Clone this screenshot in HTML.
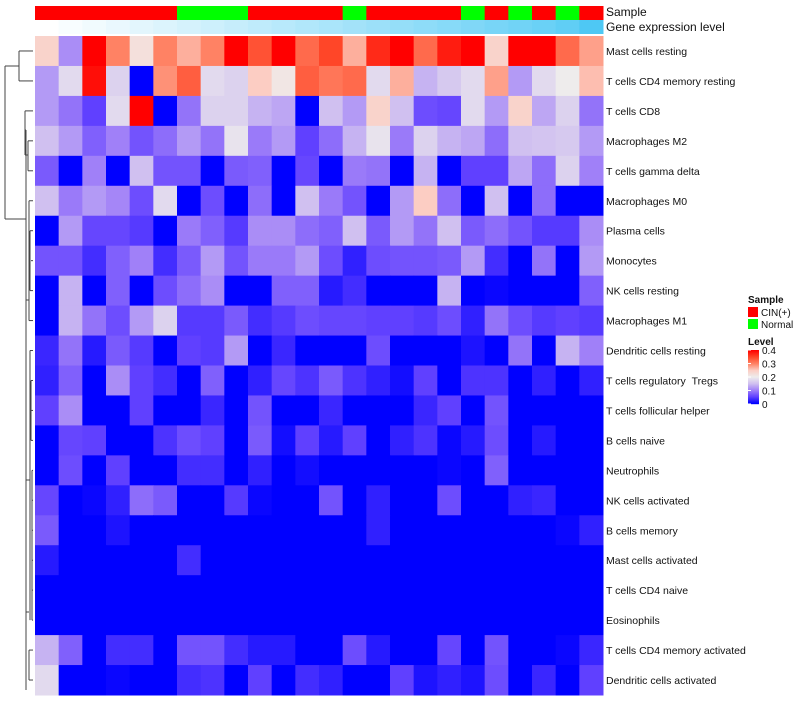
<!DOCTYPE html>
<html><head><meta charset="utf-8"><style>
body{margin:0;background:#fff;width:800px;height:700px;overflow:hidden;font-family:"Liberation Sans",sans-serif}
</style></head><body>
<svg id="chart" width="800" height="700" xmlns="http://www.w3.org/2000/svg" font-family="Liberation Sans, sans-serif"></svg>
<script>
const rowLabels=["Mast cells resting","T cells CD4 memory resting","T cells CD8","Macrophages M2","T cells gamma delta","Macrophages M0","Plasma cells","Monocytes","NK cells resting","Macrophages M1","Dendritic cells resting","T cells regulatory \u00a0Tregs","T cells follicular helper","B cells naive","Neutrophils","NK cells activated","B cells memory","Mast cells activated","T cells CD4 naive","Eosinophils","T cells CD4 memory activated","Dendritic cells activated"];
const sampleGroups=["CIN","CIN","CIN","CIN","CIN","CIN","Normal","Normal","Normal","CIN","CIN","CIN","CIN","Normal","CIN","CIN","CIN","CIN","Normal","CIN","Normal","CIN","Normal","CIN"];
const geneLevel=[0,0.04,0.08,0.12,0.16,0.2,0.24,0.28,0.32,0.36,0.4,0.44,0.48,0.52,0.56,0.6,0.64,0.68,0.72,0.76,0.8,0.84,0.9,1];
const r01=[0.24,0.11,0.4,0.3,0.22,0.3,0.27,0.3,0.4,0.34,0.4,0.32,0.35,0.27,0.37,0.4,0.32,0.38,0.4,0.24,0.4,0.4,0.32,0.28];
const r02=[0.12,0.18,0.39,0.17,0,0.29,0.33,0.18,0.17,0.25,0.21,0.33,0.31,0.32,0.18,0.27,0.14,0.16,0.18,0.28,0.12,0.18,0.2,0.26];
const r03=[0.12,0.09,0.05,0.18,0.4,0,0.09,0.17,0.17,0.14,0.13,0,0.15,0.12,0.24,0.15,0.06,0.055,0.18,0.12,0.24,0.13,0.17,0.09];
const r04=[0.15,0.12,0.075,0.1,0.065,0.085,0.12,0.09,0.19,0.095,0.12,0.05,0.085,0.14,0.19,0.095,0.17,0.14,0.13,0.085,0.15,0.155,0.16,0.12];
const r05=[0.07,0,0.1,0,0.15,0.065,0.065,0,0.07,0.075,0,0.055,0,0.095,0.09,0,0.14,0,0.05,0.05,0.13,0.085,0.17,0.1];
const r06=[0.15,0.095,0.12,0.105,0.06,0.18,0,0.06,0,0.085,0,0.15,0.095,0.065,0,0.12,0.25,0.085,0,0.15,0,0.085,0,0];
const r07=[0,0.12,0.055,0.055,0.045,0,0.095,0.075,0.045,0.11,0.11,0.085,0.075,0.15,0.07,0.12,0.09,0.15,0.07,0.085,0.065,0.045,0.045,0.11];
const r08=[0.065,0.065,0.035,0.075,0.1,0.035,0.07,0.12,0.065,0.095,0.095,0.12,0.06,0.025,0.06,0.065,0.065,0.07,0.12,0.035,0,0.09,0,0.12];
const r09=[0,0.14,0,0.075,0,0.06,0.085,0.11,0,0,0.075,0.075,0.02,0.035,0,0,0,0.14,0,0.005,0,0,0,0.075];
const r10=[0,0.14,0.09,0.06,0.12,0.17,0.045,0.045,0.07,0.035,0.045,0.06,0.055,0.055,0.05,0.05,0.045,0.06,0.025,0.09,0.06,0.045,0.05,0.045];
const r11=[0.03,0.09,0.02,0.07,0.045,0,0.05,0.045,0.12,0,0.03,0,0,0,0.06,0,0,0,0.015,0,0.09,0,0.14,0.1];
const r12=[0.025,0.075,0,0.11,0.05,0.035,0,0.075,0,0.025,0.055,0.04,0.07,0.04,0.025,0.01,0.05,0,0.04,0.04,0,0.025,0,0.025];
const r13=[0.05,0.11,0,0,0.05,0,0,0.03,0,0.065,0,0,0.03,0,0,0,0.03,0.05,0,0.065,0,0,0,0];
const r14=[0,0.055,0.05,0,0,0.04,0.06,0.05,0,0.07,0.01,0.05,0.02,0.05,0,0.025,0.04,0.005,0.02,0.06,0,0.02,0,0];
const r15=[0,0.06,0,0.05,0,0,0.035,0.035,0,0.025,0,0.01,0,0,0,0,0,0.005,0,0.075,0,0,0,0];
const r16=[0.055,0,0.005,0.025,0.085,0.07,0,0,0.045,0.005,0,0,0.065,0,0.025,0,0,0.06,0,0,0.025,0.03,0,0];
const r17=[0.07,0,0,0.015,0,0,0,0,0,0,0,0,0,0,0.025,0,0,0,0,0,0,0,0.005,0.025];
const r18=[0.02,0,0,0,0,0,0.035,0,0,0,0,0,0,0,0,0,0,0,0,0,0,0,0,0];
const r19=[0,0,0,0,0,0,0,0,0,0,0,0,0,0,0,0,0,0,0,0,0,0,0,0];
const r20=[0,0,0,0,0,0,0,0,0,0,0,0,0,0,0,0,0,0,0,0,0,0,0,0];
const r21=[0.14,0.075,0,0.035,0.035,0,0.065,0.065,0.035,0.02,0.02,0,0,0.06,0.02,0,0,0.055,0,0.065,0,0,0.005,0.03];
const r22=[0.18,0,0,0.005,0,0,0.035,0.04,0,0.05,0,0.035,0.025,0,0,0.05,0.015,0.025,0.015,0.06,0,0.03,0,0.05];
const values=[r01,r02,r03,r04,r05,r06,r07,r08,r09,r10,r11,r12,r13,r14,r15,r16,r17,r18,r19,r20,r21,r22];
const legendTicks=[0,0.1,0.2,0.3,0.4];

const NS="http://www.w3.org/2000/svg";
const svg=document.getElementById('chart');
const X0=35,X1=603,Y0=36,Y1=695;
const nC=24,nR=22,cw=(X1-X0)/nC,rh=(Y1-Y0)/nR;
const xs=i=>X0+i*cw, ys=j=>Y0+j*rh;
const stops=[[0,[0,0,255]],[0.05,[96,64,255]],[0.1,[160,128,248]],[0.15,[208,192,240]],[0.2,[238,236,236]],[0.25,[252,205,195]],[0.3,[255,130,100]],[0.35,[255,70,40]],[0.4,[255,0,0]]];
function col(v){v=Math.max(0,Math.min(0.4,v));for(let k=1;k<stops.length;k++){if(v<=stops[k][0]){const a=stops[k-1],b=stops[k],t=(v-a[0])/(b[0]-a[0]);return 'rgb('+a[1].map((c,i)=>Math.round(c+(b[1][i]-c)*t)).join(',')+')';}}return 'rgb(255,0,0)';}
function mk(tag,attrs){const e=document.createElementNS(NS,tag);for(const k in attrs)e.setAttribute(k,attrs[k]);svg.appendChild(e);return e;}
sampleGroups.forEach((g,i)=>{const r=mk('rect',{x:xs(i),y:6,width:cw+0.5,height:14,fill:g==="CIN"?'#ff0000':'#00ff00'});

});
geneLevel.forEach((g,i)=>{const c=[255+(78-255)*g,255+(200-255)*g,255+(244-255)*g].map(Math.round);const r=mk('rect',{x:xs(i),y:20,width:cw+0.5,height:14,fill:'rgb('+c.join(',')+')'});

});
values.forEach((row,j)=>row.forEach((v,i)=>{const r=mk('rect',{x:xs(i),y:ys(j),width:cw+0.5,height:rh+0.5,fill:col(v)});

}));
rowLabels.forEach((l,j)=>{const t=mk('text',{x:606,y:ys(j)+rh/2+4,'font-size':10.5,fill:'#111'});t.textContent=l;

});
const a1=mk('text',{x:606,y:16,'font-size':12,fill:'#111'});a1.textContent='Sample';


const a2=mk('text',{x:606,y:31,'font-size':12,fill:'#111'});a2.textContent='Gene expression level';


const yc=j=>ys(j)+rh/2;
const segs=[[19,yc(0),19,yc(1)],[19,yc(0),33,yc(0)],[19,yc(1),33,yc(1)],
[5,66,5,219],[5,66,19,66],[5,219,26,219],
[26,130,26,690],[26,130,25,130],[25,yc(2),25,155],[25,yc(2),33,yc(2)],[25,155,28,155],[28,yc(3),28,yc(4)],[28,yc(3),33,yc(3)],[28,yc(4),33,yc(4)],
[26,300,29,300],[29,yc(5),29,yc(9)],[29,yc(5),33,yc(5)],[30,yc(6),30,yc(8)],[30,yc(6),33,yc(6)],[30,yc(8),33,yc(8)],[29,yc(9),33,yc(9)],[31,yc(7),33,yc(7)],
[26,480,30,480],[30,yc(10),30,yc(19)],[30,yc(10),33,yc(10)],[31,yc(11),31,yc(13)],[31,yc(11),33,yc(11)],[31,yc(12),33,yc(12)],[31,yc(13),33,yc(13)],
[32,yc(14),32,yc(19)],[32,yc(14),33,yc(14)],[32,yc(15),33,yc(15)],[32,yc(16),33,yc(16)],[32,yc(17),33,yc(17)],[32,yc(18),33,yc(18)],[32,yc(19),33,yc(19)],
[26,612,29,612],[29,yc(20),29,yc(21)],[29,yc(20),33,yc(20)],[29,yc(21),33,yc(21)]];
segs.forEach(s=>{const l=mk('line',{x1:s[0],y1:s[1],x2:s[2],y2:s[3],stroke:'#444','stroke-width':1});

});
const lt=mk('text',{x:748,y:303,'font-size':10,'font-weight':'bold',fill:'#111'});lt.textContent='Sample';


[['CIN(+)','#ff0000',307],['Normal','#00ff00',319]].forEach(e=>{
const r=mk('rect',{x:748,y:e[2],width:10,height:10,fill:e[1]});


const t=mk('text',{x:761,y:e[2]+9,'font-size':10,fill:'#111'});t.textContent=e[0];

});
const lv=mk('text',{x:748,y:345,'font-size':10,'font-weight':'bold',fill:'#111'});lv.textContent='Level';


const gY0=350,gY1=404;
for(let k=0;k<54;k++){const v=0.4*(1-k/53);const r=mk('rect',{x:748,y:gY0+k,width:11,height:1.2,fill:col(v)});

}
legendTicks.forEach(v=>{const y=gY1-(v/0.4)*(gY1-gY0);
const l=mk('line',{x1:748,x2:751,y1:y,y2:y,stroke:'#fff'});


const t=mk('text',{x:762,y:y+4,'font-size':10,fill:'#111'});t.textContent=String(v);

});
</script>
</body></html>
